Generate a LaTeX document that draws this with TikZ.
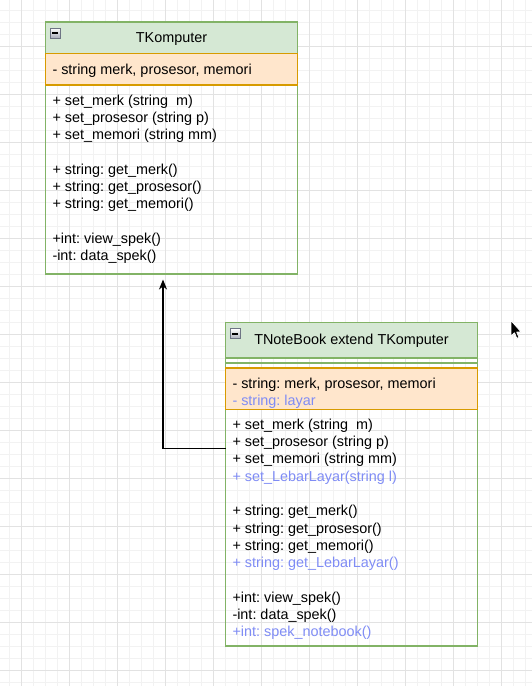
\documentclass[tikz,border=0pt]{standalone}
\usepackage{fontspec}
\setmainfont{Liberation Sans}
\usetikzlibrary{arrows.meta}
\definecolor{hdrfill}{HTML}{D5E8D4}
\definecolor{hdrline}{HTML}{82B366}
\definecolor{attfill}{HTML}{FFE6CC}
\definecolor{attline}{HTML}{D79B00}
\definecolor{newtxt}{HTML}{7F8CF5}
\definecolor{gridminor}{HTML}{F2F2F2}
\definecolor{gridmajor}{HTML}{E2E2E2}
\definecolor{icongrey}{HTML}{A9ADBA}
\definecolor{iconline}{HTML}{6E7484}
\begin{document}
\begin{tikzpicture}[x=1pt,y=-1pt,
  txt/.style={anchor=base west, inner sep=0pt, outer sep=0pt,
    font=\fontsize{14.4pt}{17pt}\selectfont\frenchspacing, text=black},
  newrow/.style={txt, text=newtxt},
  title/.style={txt, anchor=base},
  classbox/.style={draw=hdrline, line width=1.2pt, anchor=north west,
    minimum width=252pt, inner sep=0pt, outer sep=0pt},
  attbox/.style={draw=attline, fill=attfill, line width=1.2pt},
  sep/.style={draw=hdrline, line width=1.2pt},
  conn/.style={draw=black, line width=1.2pt,
    -{Stealth[length=10pt,width=8pt,inset=3pt]}},
  minusicon/.pic={
    \draw[iconline, line width=0.8pt, top color=white, bottom color=icongrey]
      (0,0) rectangle (10,10);
    \draw[black, line width=1.4pt] (2.3,5) -- (7.7,5);
  }]
\useasboundingbox (0,0) rectangle (532,686);
\fill[white] (0,0) rectangle (532,686);
% grid
\foreach \x in {9.5,21.5,...,531.5} \draw[gridminor, line width=0.8pt] (\x,0) -- (\x,686);
\foreach \y in {10,22,...,682} \draw[gridminor, line width=0.8pt] (0,\y) -- (532,\y);
\foreach \x in {21.5,69.5,...,501.5} \draw[gridmajor, line width=0.8pt] (\x,0) -- (\x,686);
\foreach \y in {46,94,...,670} \draw[gridmajor, line width=0.8pt] (0,\y) -- (532,\y);

% ---------- TKomputer ----------
\fill[hdrfill] (45.5,22) rectangle (297.5,53.5);
\node[classbox, minimum height=252pt] (tk) at (45.5,22) {};
\draw[attbox] (45.5,53.5) rectangle (297.5,85);
\pic at (50,28) {minusicon};
\node[title] (tktitle) at (171.5,42.3) {TKomputer};
\node[txt] (tka1) at (52.5,74.3) {- string merk, prosesor, memori};
\node[txt] (tkm1) at (52.5,105.3) {+ set\_merk (string\ \ m)};
\node[txt] (tkm2) at (52.5,122.55) {+ set\_prosesor (string p)};
\node[txt] (tkm3) at (52.5,139.8) {+ set\_memori (string mm)};
\node[txt] (tkm4) at (52.5,174.3) {+ string: get\_merk()};
\node[txt] (tkm5) at (52.5,191.55) {+ string: get\_prosesor()};
\node[txt] (tkm6) at (52.5,208.8) {+ string: get\_memori()};
\node[txt] (tkm7) at (52.5,243.3) {+int: view\_spek()};
\node[txt] (tkm8) at (52.5,260.55) {-int: data\_spek()};

% ---------- TNoteBook ----------
\fill[hdrfill] (225.5,322.3) rectangle (477.5,358);
\node[classbox, minimum height=323.7pt] (tnb) at (225.5,322.3) {};
\draw[sep] (225.5,358) -- (477.5,358);
\draw[sep] (225.5,363) -- (477.5,363);
\draw[attbox] (225.5,368) rectangle (477.5,409.3);
\pic at (230,328.8) {minusicon};
\node[title] (tnbtitle) at (351.5,344.4) {TNoteBook extend TKomputer};
\node[txt] (tna1) at (232.5,388.6) {- string: merk, prosesor, memori};
\node[newrow] (tna2) at (232.5,405.9) {- string: layar};
\node[txt] (tnm1) at (232.5,429.2) {+ set\_merk (string\ \ m)};
\node[txt] (tnm2) at (232.5,446.5) {+ set\_prosesor (string p)};
\node[txt] (tnm3) at (232.5,463.8) {+ set\_memori (string mm)};
\node[newrow] (tnm4) at (232.5,481.1) {+ set\_LebarLayar(string l)};
\node[txt] (tnm5) at (232.5,515.7) {+ string: get\_merk()};
\node[txt] (tnm6) at (232.5,533.0) {+ string: get\_prosesor()};
\node[txt] (tnm7) at (232.5,550.3) {+ string: get\_memori()};
\node[newrow] (tnm8) at (232.5,567.6) {+ string: get\_LebarLayar()};
\node[txt] (tnm9) at (232.5,602.2) {+int: view\_spek()};
\node[txt] (tnm10) at (232.5,619.5) {-int: data\_spek()};
\node[newrow] (tnm11) at (232.5,636.8) {+int: spek\_notebook()};

% ---------- inheritance connector ----------
\coordinate (src) at (225.5,448.3);
\coordinate (dst) at (163,279.5);
\draw[conn] (tnb.west |- src) -| (dst);

% ---------- mouse cursor ----------
\filldraw[fill=black, draw=white, line width=0.8pt, line join=round]
  (511,320.5) -- ++(0,15.5) -- ++(3.5,-3.2) -- ++(2.3,5.5) -- ++(2.2,-0.9)
  -- ++(-2.3,-5.3) -- ++(4.5,0) -- cycle;
\end{tikzpicture}
\end{document}
